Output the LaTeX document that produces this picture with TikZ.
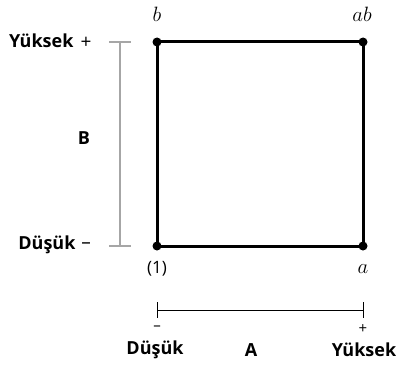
\documentclass[tikz,border=0pt]{standalone}
\usepackage{fontspec}
\setmainfont{Open Sans}
\usepackage{tikz}
\usetikzlibrary{positioning,calc}

\begin{document}
\begin{tikzpicture}[x=1pt, y=-1pt,
    corner/.style={circle, fill=black, inner sep=0pt, minimum size=9pt},
    level/.style={font=\fontsize{18}{20}\selectfont\bfseries},
    sign/.style={font=\fontsize{19}{21}\selectfont},
    run/.style={font=\fontsize{22}{24}\selectfont}]
    \useasboundingbox (0,0) rectangle (396,369);
    % Corners of the design square
    \node[corner] (one) at (157,246) {};
    \node[corner] (a) at (363,246) {};
    \node[corner] (b) at (157,42) {};
    \node[corner] (ab) at (363,42) {};
    \draw[line width=3pt, line join=miter] (one.center) -- (a.center) -- (ab.center) -- (b.center) -- cycle;
    % Run labels
    \node[run] (lb) at (157,14) {$b$};
    \node[run] (lab) at (362,14) {$ab$};
    \node[font=\fontsize{17}{19}\selectfont] (lone) at (157,269) {(1)};
    \node[run] (la) at (363,269) {$a$};
    % Factor B scale
    \coordinate (btop) at (120,42);
    \coordinate (bbot) at (120,246);
    \draw[gray!70, line width=1.2pt] (btop) -- (bbot);
    \draw[gray!70, line width=1.2pt] ($(btop)+(-11,0)$) -- ($(btop)+(11,0)$);
    \draw[gray!70, line width=1.2pt] ($(bbot)+(-11,0)$) -- ($(bbot)+(11,0)$);
    \node[level, anchor=east] (bhigh) at (77,41) {Yüksek};
    \node[sign] (bplus) at (86,43) {+};
    \node[level, anchor=east] (blow) at (79,245) {Düşük};
    \node[sign] (bminus) at (86,246) {–};
    \node[level] (bname) at (84,138) {B};
    % Factor A scale
    \coordinate (aleft) at (157,310);
    \coordinate (aright) at (363,310);
    \draw[line width=1pt] (aleft) -- (aright);
    \draw[line width=1pt] ($(aleft)+(0,-8)$) -- ($(aleft)+(0,8)$);
    \draw[line width=1pt] ($(aright)+(0,-8)$) -- ($(aright)+(0,8)$);
    \node[sign, font=\fontsize{15}{17}\selectfont] (aminus) at (157,328) {–};
    \node[sign, font=\fontsize{15}{17}\selectfont] (aplus) at (363,329) {+};
    \node[level] (alow) at (155,350) {Düşük};
    \node[level] (aname) at (251,350) {A};
    \node[level] (ahigh) at (364,350) {Yüksek};
\end{tikzpicture}
\end{document}
